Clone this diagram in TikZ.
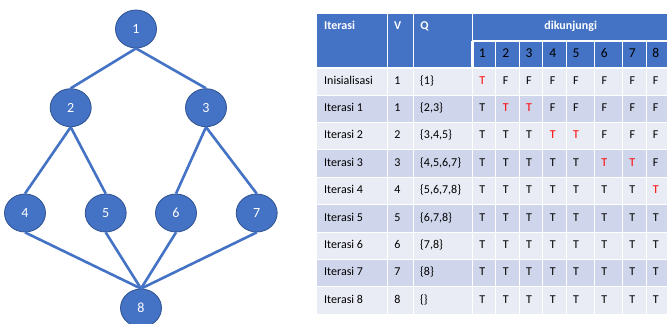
\documentclass[tikz,border=0pt]{standalone}
\usepackage{fontspec}
\setmainfont{Carlito}
\usetikzlibrary{shapes.geometric}
\definecolor{ofblue}{HTML}{4472C4}
\definecolor{ofdark}{HTML}{2F528F}
\definecolor{rowA}{HTML}{E9EBF5}
\definecolor{rowB}{HTML}{CFD5EA}
\definecolor{tred}{HTML}{FF0000}
\newcommand\tvT{T}
\newcommand\tvF{F}
\newcommand\tvR{\textcolor{tred}{T}}
\begin{document}
\begin{tikzpicture}[x=1pt,y=-1pt,
  vtx/.style={ellipse, draw=ofdark, line width=0.8pt, fill=ofblue,
    minimum width=41pt, minimum height=38pt, inner sep=0pt, text=white,
    font=\fontsize{14}{16}\selectfont},
  link/.style={draw=ofblue, line width=2.6pt},
  hd/.style={font=\fontsize{12}{14}\selectfont\bfseries, text=white, inner sep=0pt},
  sub/.style={font=\fontsize{13.5}{15}\selectfont, text=black, inner sep=0pt, anchor=base},
  cell/.style={font=\fontsize{12}{14}\selectfont, text=black, inner sep=0pt, anchor=base},
  grid/.style={draw=white, line width=1pt}]
\useasboundingbox (0,0) rectangle (667,324);
\fill[white] (0,0) rectangle (667,324);

% ---------- graph ----------
\node[vtx] (n1) at (136,29) {1};
\node[vtx] (n2) at (70.7,107.7) {2};
\node[vtx] (n3) at (206,107.7) {3};
\node[vtx] (n4) at (25,213) {4};
\node[vtx] (n5) at (105.7,213) {5};
\node[vtx] (n6) at (176,213) {6};
\node[vtx] (n7) at (256.7,213) {7};
\node[vtx] (n8) at (141,308) {8};
\draw[link] (n1.south) -- (n2.north);
\draw[link] (n1.south) -- (n3.north);
\draw[link] (n2.south) -- (n4.north);
\draw[link] (n2.south) -- (n5.north);
\draw[link] (n3.south) -- (n6.north);
\draw[link] (n3.south) -- (n7.north);
\draw[link] (n4.south) -- (n8.north);
\draw[link] (n5.south) -- (n8.north);
\draw[link] (n6.south) -- (n8.north);
\draw[link] (n7.south) -- (n8.north);

% ---------- table backgrounds ----------
\fill[ofblue] (317.3,13.7) rectangle (670,67.7);
\foreach \r in {0,...,8}{
  \pgfmathsetmacro{\yt}{67.7+27.4*\r}
  \pgfmathsetmacro{\yb}{67.7+27.4*(\r+1)}
  \pgfmathtruncatemacro{\odd}{mod(\r,2)}
  \ifnum\odd=0 \fill[rowA] (317.3,\yt) rectangle (670,\yb);
  \else \fill[rowB] (317.3,\yt) rectangle (670,\yb); \fi
}
% grid lines
\foreach \x in {387.3,413,472.5}{
  \draw[grid] (\x,13.7) -- (\x,314.3);
}
\foreach \x in {495.7,519.3,542.7,566,594,622.3,646}{
  \draw[grid] (\x,40.7) -- (\x,314.3);
}
\foreach \r in {1,...,8}{
  \pgfmathsetmacro{\yy}{67.7+27.4*\r}
  \draw[grid] (317.3,\yy) -- (670,\yy);
}
\draw[draw=white, line width=2.2pt] (472.5,40.7) -- (670,40.7);
\draw[draw=white, line width=2.2pt] (472.5,40.7) -- (472.5,67.7);
\draw[draw=white, line width=2.2pt] (317.3,67.7) -- (670,67.7);

% ---------- header text ----------
\node[hd, anchor=base west] (hIt) at (324,29.5) {Iterasi};
\node[hd, anchor=base] (hV) at (397.7,29.5) {V};
\node[hd, anchor=base] (hQ) at (424.5,29.5) {Q};
\node[hd, anchor=base] (hD) at (570.7,29.5) {dikunjungi};
\foreach \n [count=\k] in {482.3,505.7,529,552.7,576,604.3,632.3,655.7}{
  \node[sub] (s\k) at (\n,57.5) {\k};
}

% ---------- body ----------
\foreach \r/\lab/\v/\q/\cells in {
  0/Inisialisasi/1/{\{1\}}/{\tvR,\tvF,\tvF,\tvF,\tvF,\tvF,\tvF,\tvF},
  1/Iterasi 1/1/{\{2,3\}}/{\tvT,\tvR,\tvR,\tvF,\tvF,\tvF,\tvF,\tvF},
  2/Iterasi 2/2/{\{3,4,5\}}/{\tvT,\tvT,\tvT,\tvR,\tvR,\tvF,\tvF,\tvF},
  3/Iterasi 3/3/{\{4,5,6,7\}}/{\tvT,\tvT,\tvT,\tvT,\tvT,\tvR,\tvR,\tvF},
  4/Iterasi 4/4/{\{5,6,7,8\}}/{\tvT,\tvT,\tvT,\tvT,\tvT,\tvT,\tvT,\tvR},
  5/Iterasi 5/5/{\{6,7,8\}}/{\tvT,\tvT,\tvT,\tvT,\tvT,\tvT,\tvT,\tvT},
  6/Iterasi 6/6/{\{7,8\}}/{\tvT,\tvT,\tvT,\tvT,\tvT,\tvT,\tvT,\tvT},
  7/Iterasi 7/7/{\{8\}}/{\tvT,\tvT,\tvT,\tvT,\tvT,\tvT,\tvT,\tvT},
  8/Iterasi 8/8/{\{\}}/{\tvT,\tvT,\tvT,\tvT,\tvT,\tvT,\tvT,\tvT}}{
  \pgfmathsetmacro{\yb}{67.7+27.4*\r+16.3}
  \node[cell, anchor=base west] (l\r) at (324,\yb) {\lab};
  \node[cell] (v\r) at (397.5,\yb) {\v};
  \node[cell, anchor=base west] (q\r) at (420,\yb) {\q};
  \foreach \c [count=\k] in \cells {
    \pgfmathsetmacro{\xx}{{482.3,505.7,529,552.7,576,604.3,632.3,655.7}[\k-1]}
    \node[cell] (c\r-\k) at (\xx,\yb) {\c};
  }
}
\end{tikzpicture}
\end{document}
